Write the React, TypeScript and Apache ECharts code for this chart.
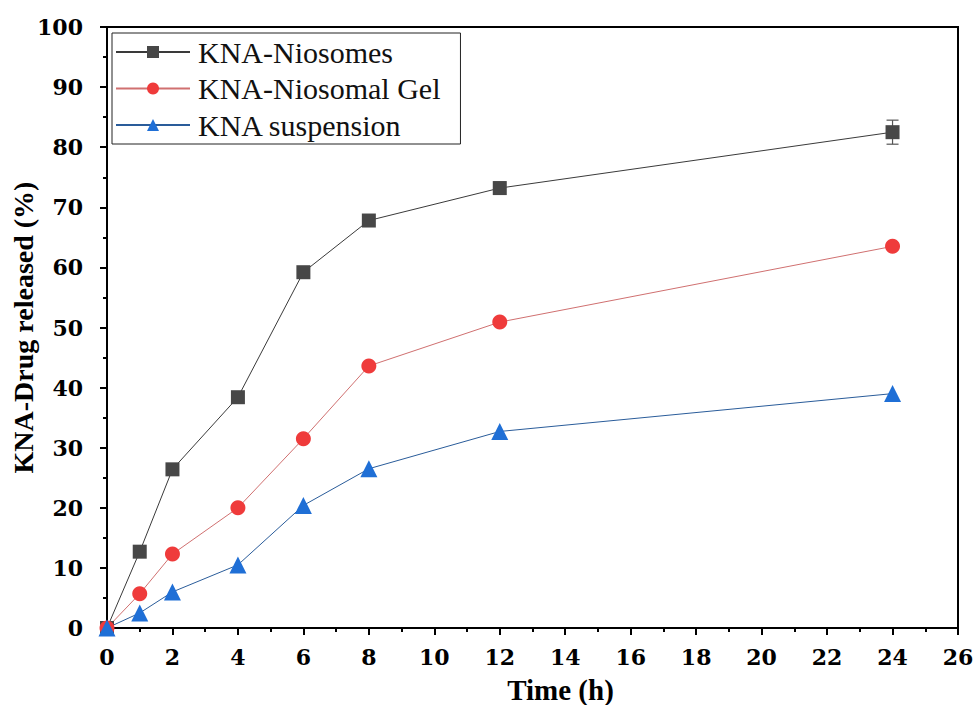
import React, { useEffect, useRef } from "react";
import * as echarts from "echarts";

const times = [0, 1, 2, 4, 6, 8, 12, 24];
const niosomes = [0, 12.7, 26.4, 38.4, 59.2, 67.8, 73.2, 82.5];
const niosomesErr = [0, 0.5, 0.6, 0.6, 0.7, 0.9, 1.0, 2.0];
const gel = [0, 5.7, 12.3, 20.0, 31.5, 43.6, 50.9, 63.5];
const suspension = [0, 2.5, 6.0, 10.5, 20.4, 26.5, 32.7, 39.0];
const seriesNames = ["KNA-Niosomes", "KNA-Niosomal Gel", "KNA suspension"];

const wideSerif = "DejaVu Serif";
const serif = "Liberation Serif";

export default function App() {
  const ref = useRef<HTMLDivElement>(null);
  useEffect(() => {
    if (!ref.current) return;
    const chart = echarts.init(ref.current, undefined, { renderer: "svg" });
    const pairs = (ys: number[]) => times.map((t, i) => [t, ys[i]]);
    const errData = times.map((t, i) => [t, niosomes[i] - niosomesErr[i], niosomes[i] + niosomesErr[i]]);
    chart.setOption({
      animation: false,
      backgroundColor: "#fff",
      textStyle: { fontFamily: serif },
      grid: {
        left: 107,
        right: 15,
        top: 27,
        bottom: 77,
        containLabel: false,
        outerBoundsMode: "none",
        show: true,
        borderColor: "#000",
        borderWidth: 2,
        backgroundColor: "transparent",
      },
      legend: {
        left: 112,
        top: 33,
        orient: "vertical",
        itemWidth: 74,
        itemHeight: 15,
        itemGap: 6.5,
        borderColor: "#222",
        borderWidth: 1,
        padding: [4, 20, 4, 3],
        data: seriesNames,
        textStyle: { fontFamily: serif, fontSize: 30, color: "#111", padding: [0, 0, 0, 3] },
      },
      xAxis: {
        type: "value",
        min: 0,
        max: 26,
        interval: 2,
        name: "Time (h)",
        nameLocation: "middle",
        nameGap: 47,
        nameMoveOverlap: false,
        nameTextStyle: {
          fontFamily: serif,
          fontSize: 29,
          fontWeight: "bold",
          color: "#000",
          padding: [0, 0, 0, 56],
        },
        axisLine: { show: true, lineStyle: { color: "#000", width: 2 } },
        axisTick: { show: true, inside: false, length: 7, lineStyle: { color: "#000", width: 2 } },
        minorTick: { show: true, splitNumber: 2, length: 4, lineStyle: { color: "#000", width: 2 } },
        axisLabel: { fontFamily: wideSerif, fontSize: 22, fontWeight: "bold", color: "#000", margin: 18 },
        splitLine: { show: false },
      },
      yAxis: {
        type: "value",
        min: 0,
        max: 100,
        interval: 10,
        name: "KNA-Drug released (%)",
        nameLocation: "middle",
        nameGap: 70,
        nameMoveOverlap: false,
        nameRotate: 90,
        nameTextStyle: { fontFamily: serif, fontSize: 28, fontWeight: "bold", color: "#000" },
        axisLine: { show: true, lineStyle: { color: "#000", width: 2 } },
        axisTick: { show: true, inside: false, length: 7, lineStyle: { color: "#000", width: 2 } },
        minorTick: { show: true, splitNumber: 2, length: 4, lineStyle: { color: "#000", width: 2 } },
        axisLabel: { fontFamily: wideSerif, fontSize: 22, fontWeight: "bold", color: "#000", margin: 24 },
        splitLine: { show: false },
      },
      series: [
        {
          name: seriesNames[0],
          type: "line",
          data: pairs(niosomes),
          symbol: "rect",
          symbolSize: 14,
          itemStyle: { color: "#474747" },
          lineStyle: { color: "#3a3a3a", width: 1 },
          z: 3,
        },
        {
          name: seriesNames[1],
          type: "line",
          data: pairs(gel),
          symbol: "circle",
          symbolSize: 15,
          itemStyle: { color: "#ef3b3b" },
          lineStyle: { color: "#d07070", width: 1 },
          z: 3,
        },
        {
          name: seriesNames[2],
          type: "line",
          data: pairs(suspension),
          symbol: "triangle",
          symbolSize: 17,
          itemStyle: { color: "#1f6fd6" },
          lineStyle: { color: "#2a5c9a", width: 1 },
          z: 3,
        },
        {
          name: "err",
          type: "custom",
          data: errData,
          z: 2,
          renderItem: (params: any, api: any) => {
            const x = api.value(0);
            const lo = api.coord([x, api.value(1)]);
            const hi = api.coord([x, api.value(2)]);
            const w = 6;
            const st = { stroke: "#555", lineWidth: 1.2 };
            return {
              type: "group",
              children: [
                { type: "line", shape: { x1: lo[0], y1: lo[1], x2: hi[0], y2: hi[1] }, style: st },
                { type: "line", shape: { x1: lo[0] - w, y1: lo[1], x2: lo[0] + w, y2: lo[1] }, style: st },
                { type: "line", shape: { x1: hi[0] - w, y1: hi[1], x2: hi[0] + w, y2: hi[1] }, style: st },
              ],
            };
          },
        },
      ],
    });
    return () => chart.dispose();
  }, []);
  return <div ref={ref} style={{ width: 973, height: 705, position: "absolute", left: 0, top: 0 }} />;
}
